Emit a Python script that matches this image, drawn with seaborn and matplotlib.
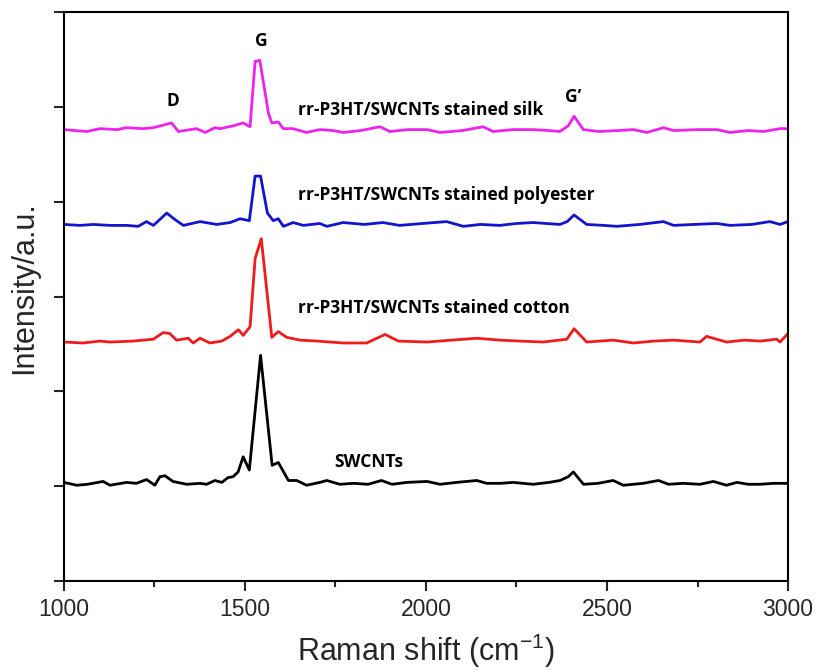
import matplotlib
matplotlib.use('Agg')
import matplotlib.pyplot as plt
import seaborn as sns
from matplotlib.ticker import MultipleLocator

# Raman spectra (offset traces, arbitrary units)
swcnt_x = [1000, 1035, 1065, 1108, 1127, 1173, 1200, 1228, 1251, 1265, 1279, 1301, 1339, 1376, 1394,
           1417, 1436, 1453, 1467, 1481, 1495, 1512, 1543, 1575, 1592, 1620, 1643, 1670, 1707, 1726,
           1762, 1800, 1840, 1877, 1906, 1947, 2003, 2039, 2085, 2140, 2168, 2205, 2241, 2296, 2340,
           2370, 2393, 2407, 2435, 2475, 2517, 2545, 2600, 2642, 2670, 2710, 2757, 2794, 2830, 2859,
           2890, 2923, 2960, 3000]
swcnt_y = [1.04, 1.01, 1.02, 1.05, 1.01, 1.04, 1.03, 1.07, 1.01, 1.10, 1.11, 1.05, 1.02, 1.03, 1.02,
           1.06, 1.04, 1.09, 1.10, 1.15, 1.31, 1.17, 2.38, 1.22, 1.25, 1.06, 1.06, 1.01, 1.04, 1.06,
           1.02, 1.03, 1.02, 1.06, 1.02, 1.04, 1.05, 1.02, 1.04, 1.06, 1.03, 1.03, 1.04, 1.02, 1.04,
           1.06, 1.10, 1.15, 1.02, 1.03, 1.06, 1.01, 1.03, 1.06, 1.02, 1.03, 1.02, 1.05, 1.01, 1.04,
           1.02, 1.02, 1.03, 1.03]

cotton_x = [1000, 1053, 1099, 1127, 1191, 1247, 1274, 1292, 1311, 1343, 1357, 1376, 1403, 1436, 1459,
            1482, 1495, 1514, 1528, 1545, 1574, 1592, 1615, 1652, 1700, 1771, 1836, 1887, 1924, 2003,
            2070, 2140, 2204, 2260, 2324, 2389, 2409, 2444, 2517, 2573, 2630, 2684, 2757, 2775, 2830,
            2880, 2923, 2969, 2978, 3000]
cotton_y = [2.52, 2.51, 2.53, 2.52, 2.53, 2.55, 2.62, 2.61, 2.54, 2.56, 2.51, 2.56, 2.51, 2.53, 2.58,
            2.65, 2.59, 2.68, 3.40, 3.61, 2.57, 2.63, 2.57, 2.54, 2.53, 2.51, 2.51, 2.60, 2.53, 2.52,
            2.54, 2.56, 2.54, 2.53, 2.52, 2.55, 2.66, 2.52, 2.54, 2.51, 2.53, 2.54, 2.52, 2.58, 2.52,
            2.54, 2.53, 2.55, 2.52, 2.61]

polyester_x = [1000, 1044, 1081, 1127, 1173, 1205, 1228, 1247, 1284, 1307, 1330, 1376, 1422, 1459, 1486,
               1512, 1528, 1543, 1562, 1578, 1592, 1606, 1633, 1661, 1707, 1726, 1771, 1830, 1881, 1927,
               1990, 2057, 2103, 2150, 2204, 2250, 2296, 2370, 2390, 2409, 2444, 2490, 2527, 2590, 2656,
               2684, 2740, 2803, 2840, 2900, 2950, 2978, 3000]
polyester_y = [3.76, 3.75, 3.76, 3.75, 3.75, 3.74, 3.79, 3.75, 3.88, 3.81, 3.75, 3.79, 3.76, 3.78, 3.82,
               3.80, 4.27, 4.27, 3.88, 3.80, 3.82, 3.74, 3.78, 3.75, 3.77, 3.74, 3.78, 3.76, 3.78, 3.75,
               3.77, 3.79, 3.74, 3.76, 3.75, 3.77, 3.78, 3.76, 3.79, 3.86, 3.76, 3.75, 3.74, 3.76, 3.79,
               3.75, 3.76, 3.77, 3.75, 3.76, 3.79, 3.76, 3.79]

silk_x = [1000, 1063, 1099, 1146, 1173, 1219, 1247, 1297, 1316, 1366, 1390, 1417, 1431, 1468, 1495,
          1514, 1528, 1541, 1565, 1574, 1592, 1606, 1633, 1670, 1707, 1744, 1771, 1820, 1873, 1900,
          1950, 2002, 2039, 2100, 2158, 2185, 2240, 2296, 2340, 2370, 2393, 2409, 2435, 2477, 2530,
          2573, 2610, 2656, 2684, 2750, 2803, 2840, 2890, 2932, 2978, 3000]
silk_y = [4.76, 4.74, 4.77, 4.76, 4.78, 4.77, 4.78, 4.83, 4.74, 4.77, 4.73, 4.78, 4.77, 4.80, 4.83,
          4.79, 5.48, 5.49, 4.93, 4.83, 4.84, 4.77, 4.77, 4.73, 4.76, 4.75, 4.73, 4.75, 4.79, 4.74,
          4.76, 4.76, 4.73, 4.75, 4.79, 4.74, 4.76, 4.76, 4.75, 4.74, 4.80, 4.90, 4.76, 4.74, 4.75,
          4.76, 4.73, 4.78, 4.75, 4.76, 4.76, 4.73, 4.75, 4.74, 4.77, 4.77]

sns.set_style('ticks')
plt.rcParams['font.family'] = ['Liberation Sans', 'DejaVu Sans']

fig = plt.figure(figsize=(8.16, 6.71), dpi=100)
ax = fig.add_axes([0.0784, 0.1341, 0.8873, 0.848])

sns.lineplot(x=swcnt_x, y=swcnt_y, color='black', linewidth=2, ax=ax, estimator=None, sort=False)
sns.lineplot(x=cotton_x, y=cotton_y, color='#ee1c1c', linewidth=2, ax=ax, estimator=None, sort=False)
sns.lineplot(x=polyester_x, y=polyester_y, color='#1414cc', linewidth=2, ax=ax, estimator=None, sort=False)
sns.lineplot(x=silk_x, y=silk_y, color='#ee22ee', linewidth=2, ax=ax, estimator=None, sort=False)

# annotations
lbl = dict(fontsize=12.5, fontweight='bold', family='Open Sans', color='black')
ax.text(1544, 5.69, 'G', ha='center', va='center', **lbl)
ax.text(1301, 5.06, 'D', ha='center', va='center', **lbl)
ax.text(2406, 5.10, 'G\u2019', ha='center', va='center', **lbl)
ax.text(1646, 4.97, 'rr-P3HT/SWCNTs stained silk', ha='left', va='center', **lbl)
ax.text(1646, 4.07, 'rr-P3HT/SWCNTs stained polyester', ha='left', va='center', **lbl)
ax.text(1646, 2.88, 'rr-P3HT/SWCNTs stained cotton', ha='left', va='center', **lbl)
ax.text(1746, 1.25, 'SWCNTs', ha='left', va='center', **lbl)

ax.set_xlim(1000, 3000)
ax.set_ylim(0, 6)
ax.xaxis.set_major_locator(MultipleLocator(500))
ax.xaxis.set_minor_locator(MultipleLocator(250))
ax.yaxis.set_major_locator(MultipleLocator(1))
ax.set_yticklabels([])
ax.tick_params(axis='both', which='major', direction='out', length=7, width=1.5, labelsize=16.5, pad=5)
ax.tick_params(axis='x', which='minor', direction='out', length=4, width=1.5)
for s in ax.spines.values():
    s.set_linewidth(1.5)
    s.set_color('black')

ax.set_xlabel('Raman shift (cm$^{\\mathregular{-1}}$)', fontsize=22, labelpad=8)
ax.set_ylabel('Intensity/a.u.', fontsize=22)
ax.yaxis.set_label_coords(-0.034, 0.515)

fig.savefig('out.png', dpi=100)
